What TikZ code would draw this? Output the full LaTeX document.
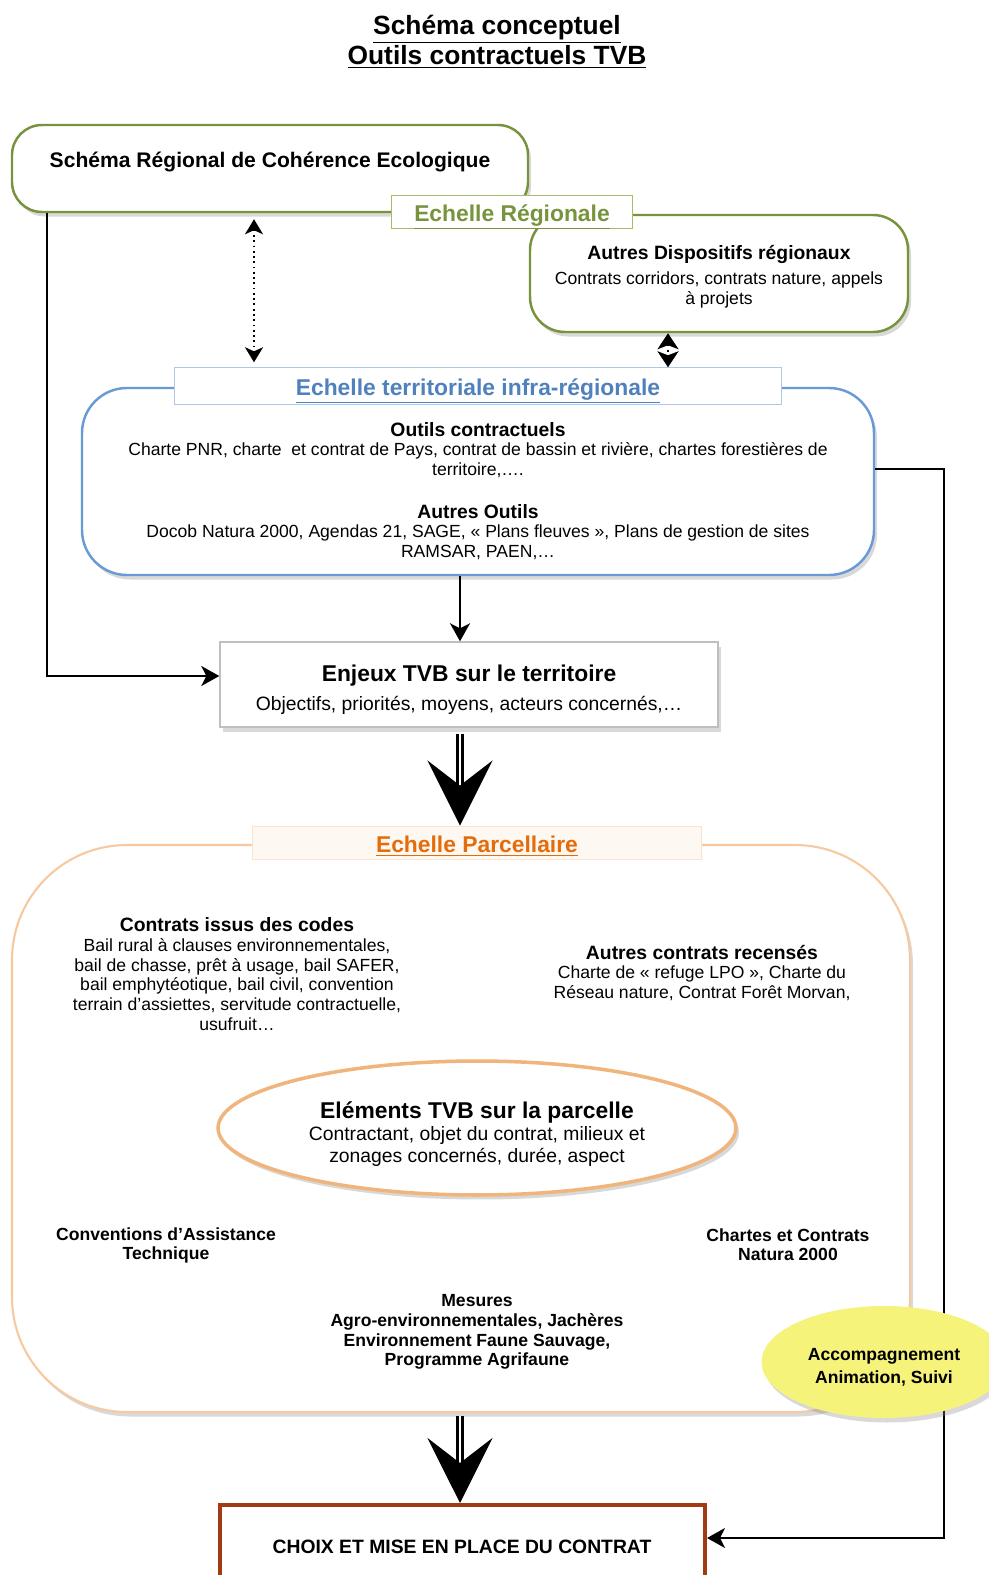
\documentclass[tikz,border=0pt]{standalone}
\usepackage{fontspec}
\setmainfont{Liberation Sans}
\usetikzlibrary{positioning,fit,shapes.geometric,arrows.meta,shadows}
\definecolor{regGreen}{HTML}{77933C}
\definecolor{regGreenLt}{HTML}{A3BE6A}
\definecolor{terBlue}{HTML}{4F81BD}
\definecolor{terBlueLt}{HTML}{AFC8E8}
\definecolor{terBorder}{HTML}{6A9AD6}
\definecolor{parcOrange}{HTML}{E46C0A}
\definecolor{parcBorder}{HTML}{F7C9A0}
\definecolor{parcLt}{HTML}{FBE3CD}
\definecolor{ellBorder}{HTML}{F0B57C}
\definecolor{suiviYellow}{HTML}{F5F37A}
\definecolor{choixRed}{HTML}{A33A12}
\newcommand{\hd}[1]{{\fontsize{11}{11.3}\selectfont\bfseries #1}}
\begin{document}
\begin{tikzpicture}[x=0.02cm,y=-0.02cm,shade_box/.style={drop shadow={opacity=0.3,shadow xshift=0.6mm,shadow yshift=-0.9mm}},reg_box/.style={rectangle, rounded corners=0.6cm, draw=regGreen, line width=1.4pt, fill=white, inner sep=0pt, shade_box},ter_box/.style={rectangle, rounded corners=0.9cm, draw=terBorder, line width=1.4pt, fill=white, inner sep=0pt, shade_box},parc_box/.style={rectangle, rounded corners=2.3cm, draw=parcBorder, line width=1.2pt, fill=white, inner sep=0pt, shade_box},echelle/.style={rectangle, text height=12pt, text depth=1.5pt, inner ysep=2.9pt, fill=white, line width=0.6pt, font=\fontsize{13}{15}\selectfont\bfseries},body/.style={align=center, font=\fontsize{10}{11.3}\selectfont},bold_txt/.style={align=center, font=\fontsize{10}{10.8}\selectfont\bfseries},conn/.style={-{Stealth[length=3.6mm,width=4mm,inset=1mm]}, line width=1.1pt},dotarr/.style={{Stealth[length=3mm,width=3.6mm,inset=0.8mm]}-{Stealth[length=3mm,width=3.6mm,inset=0.8mm]}, line width=1pt, dotted},bigarr/.style={-{Stealth[length=1.3cm,width=1.3cm,inset=0.5cm]}, double, double distance=1.6pt, line width=1.5pt}]
                    \useasboundingbox (0,0) rectangle (989,1575);
                    \clip (0,0) rectangle (989,1575);
                    % titre
                    \node[align=center, font=\fontsize{15}{17}\selectfont\bfseries] (titre) at (497,42) {\underline{Schéma conceptuel}\\\underline{Outils contractuels TVB}};
                    % echelle regionale
                    \node[reg_box, fit={(12,125) (528,212)}] (srce) {};
                    \node[font=\fontsize{12}{14}\selectfont\bfseries] (srce_t) at (270,162) {Schéma Régional de Cohérence Ecologique};
                    \node[reg_box, rounded corners=0.7cm, fit={(530,215) (908,332)}] (autres) {};
                    \node[body] (autres_t) at (719,277) {\hd{Autres Dispositifs régionaux}\\[3pt]Contrats corridors, contrats nature, appels\\à projets};
                    \node[echelle, draw=regGreenLt, text=regGreen, minimum width=4.82cm] (reg_lbl) at (512,212) {\underline{Echelle Régionale}};
                    % echelle territoriale
                    \node[ter_box, fit={(82,388) (874,575)}] (ter) {};
                    \node[echelle, draw=terBlueLt, text=terBlue, minimum width=12.14cm, inner ysep=3.6pt] (ter_lbl) at (478,386) {\underline{Echelle territoriale infra-régionale}};
                    \node[body] (outils) at (478,450) {\hd{Outils contractuels}\\Charte PNR, charte\ \ et contrat de Pays, contrat de bassin et rivière, chartes forestières de\\territoire,\dots.};
                    \node[body] (autres_outils) at (478,532) {\hd{Autres Outils}\\Docob Natura 2000, Agendas 21, SAGE, « Plans fleuves », Plans de gestion de sites\\RAMSAR, PAEN,\dots};
                    % enjeux
                    \node[rectangle, draw=gray!50, line width=0.8pt, fill=white, inner sep=0pt, shade_box, fit={(220,642) (718,727)}] (enjeu) {};
                    \node[font=\fontsize{13}{15}\selectfont\bfseries] (enjeu_t) at (469,676) {Enjeux TVB sur le territoire};
                    \node[font=\fontsize{11}{13}\selectfont, below=-0.05cm of enjeu_t] (enjeu_s) {Objectifs, priorités, moyens, acteurs concernés,\dots};
                    % echelle parcellaire
                    \node[parc_box, fit={(12,845) (910,1412)}] (parc) {};
                    \node[echelle, draw=parcLt, fill=parcLt!25, text=parcOrange, minimum width=8.98cm] (parc_lbl) at (477,843) {\underline{Echelle Parcellaire}};
                    \node[body] (codes) at (237,974) {\hd{Contrats issus des codes}\\Bail rural à clauses environnementales,\\bail de chasse, prêt à usage, bail SAFER,\\bail emphytéotique, bail civil, convention\\terrain d’assiettes, servitude contractuelle,\\usufruit\dots};
                    \node[body] (recenses) at (702,973) {\hd{Autres contrats recensés}\\Charte de « refuge LPO », Charte du\\Réseau nature, Contrat Forêt Morvan,};
                    \node[ellipse, draw=ellBorder, line width=2pt, fill=white, shade_box, minimum width=10.36cm, minimum height=2.68cm] (elts) at (477,1128) {};
                    \node[align=center, font=\fontsize{11}{12.4}\selectfont] (elts_t) at (477,1134) {{\fontsize{13}{14}\selectfont\bfseries Eléments TVB sur la parcelle}\\Contractant, objet du contrat, milieux et\\zonages concernés, durée, aspect};
                    \node[bold_txt] (conv) at (166,1245) {Conventions d’Assistance\\Technique};
                    \node[bold_txt] (natura) at (788,1245) {Chartes et Contrats\\Natura 2000};
                    \node[bold_txt, font=\fontsize{10}{11.3}\selectfont\bfseries] (mesures) at (477,1332) {Mesures\\Agro-environnementales, Jachères\\Environnement Faune Sauvage,\\Programme Agrifaune};
                    % choix
                    \node[rectangle, draw=choixRed, line width=2.3pt, fill=white, inner sep=0pt, fit={(220,1505) (705,1600)}] (choix) {};
                    \node[font=\fontsize{11}{13}\selectfont\bfseries] (choix_t) at (462,1547) {CHOIX ET MISE EN PLACE DU CONTRAT};
                    % liaisons
                    \coordinate (x_dot) at (254,0);
                    \coordinate (x_dot2) at (668,0);
                    \coordinate (x_mid) at (460,0);
                    \coordinate (x_left) at (47,0);
                    \coordinate (coin) at (944,469);
                    \draw[dotarr, shorten <=1.2mm, shorten >=1mm] (srce.south -| x_dot) -- (ter_lbl.north -| x_dot);
                    \draw[dotarr, {Stealth[length=3.2mm,width=4.2mm,inset=0.8mm]}-{Stealth[length=3.2mm,width=4.2mm,inset=0.8mm]}] (autres.south -| x_dot2) -- (ter_lbl.north -| x_dot2);
                    \draw[conn] (ter.south -| x_mid) -- (enjeu.north -| x_mid);
                    \draw[conn] (srce.south -| x_left) |- ([yshift=0.17cm]enjeu.west);
                    \draw[conn] (ter.east |- coin) -- (coin) |- ([yshift=0.29cm]choix.east);
                    \draw[bigarr, shorten <=1.2mm] (enjeu.south -| x_mid) -- (parc_lbl.north -| x_mid);
                    \draw[bigarr, shorten <=0.6mm] (parc.south -| x_mid) -- (choix.north -| x_mid);
                    % accompagnement
                    \node[ellipse, fill=suiviYellow, shade_box, minimum width=4.9cm, minimum height=2.24cm] (suivi) at (884,1362) {};
                    \node[align=center, font=\fontsize{10}{13}\selectfont\bfseries] (suivi_t) at (884,1367) {Accompagnement\\Animation, Suivi};
                \end{tikzpicture}
\end{document}
